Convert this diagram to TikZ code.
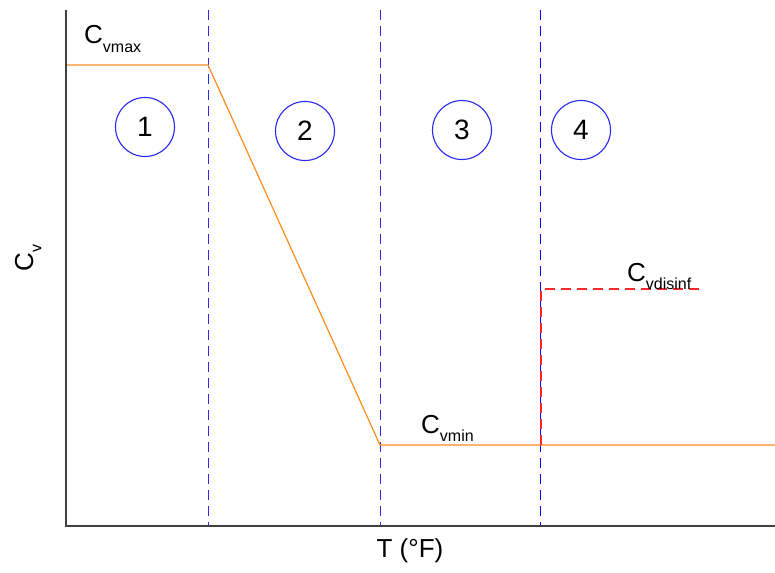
\documentclass[tikz,border=0pt]{standalone}
\usepackage{fontspec}
\setmainfont{Liberation Sans}
\definecolor{curveorange}{RGB}{255,140,30}
\definecolor{zoneblue}{RGB}{40,40,240}
\definecolor{disred}{RGB}{255,40,40}
\newcommand{\lowsub}[1]{\raisebox{-0.32em}{\fontsize{16}{18}\selectfont #1}}
\begin{document}
\begin{tikzpicture}[x=1pt,y=-1pt,
  axisline/.style={draw=black!75,line width=1.4pt},
  zoneline/.style={draw=zoneblue,line width=0.8pt,dash pattern=on 10pt off 6pt},
  curveline/.style={draw=curveorange,line width=1.2pt},
  disline/.style={draw=disred,line width=1.1pt,dash pattern=on 10pt off 6pt},
  zonecircle/.style={draw=zoneblue,line width=1.1pt,circle,minimum size=59pt,inner sep=0pt,font=\fontsize{28}{30}\selectfont},
  lbl/.style={inner sep=0pt,font=\fontsize{26}{28}\selectfont}]
\useasboundingbox (0,0) rectangle (775,572);
% coordinates
\coordinate (origin) at (66,526);
\coordinate (ytop) at (66,10);
\coordinate (xend) at (775,526);
\coordinate (zatop) at (208,10);
\coordinate (zabot) at (208,526);
\coordinate (zbtop) at (380,10);
\coordinate (zbbot) at (380,526);
\coordinate (zctop) at (540.6,10);
\coordinate (zcbot) at (540.6,526);
\coordinate (p0) at (66,65);
\coordinate (p1) at (208,65);
\coordinate (p2) at (380,445);
\coordinate (p3) at (775,445);
\coordinate (d0) at (541,445);
\coordinate (d1) at (541,289);
\coordinate (d2) at (700,289);
% zone lines
\draw[zoneline,draw=blue] (zctop) -- (zcbot);
\draw[zoneline] (zatop) -- (zabot);
\draw[zoneline] (zbtop) -- (zbbot);
% curve
\draw[curveline] (p0) -- (p1) -- (p2) -- (p3);
\draw[disline] (d0) -- (d1) -- (d2);
% axes
\draw[axisline] (ytop) -- (origin) -- (xend);
% circles
\node[zonecircle] (z1) at (145,127) {1};
\node[zonecircle] (z2) at (305,131) {2};
\node[zonecircle] (z3) at (462,130) {3};
\node[zonecircle] (z4) at (581,130) {4};
% labels
\node[lbl,anchor=base west] (cvmax) at (84,44) {C\lowsub{vmax}};
\node[lbl,anchor=base west] (cvmin) at (421,433) {C\lowsub{vmin}};
\node[lbl,anchor=base west] (cvdis) at (627,281) {C\lowsub{vdisinf}};
\node[lbl,rotate=90,anchor=base] (cv) at (33,258) {C\lowsub{v}};
\node[lbl] (tx) at (410,551) {T (°F)};
\end{tikzpicture}
\end{document}
